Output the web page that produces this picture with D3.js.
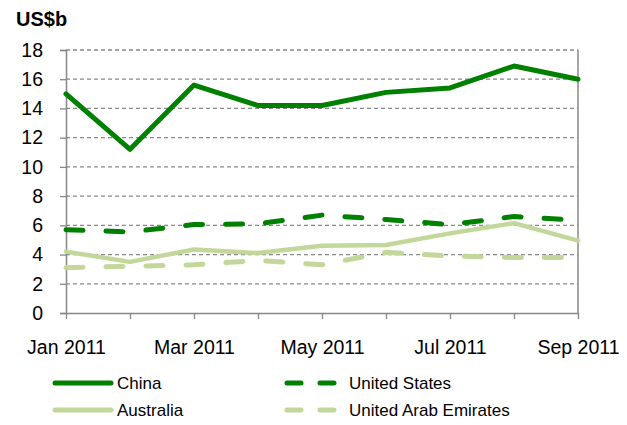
<!DOCTYPE html>
<html><head><meta charset="utf-8">
<script src="https://cdn.jsdelivr.net/npm/d3@7/dist/d3.min.js"></script>
<style>body{margin:0;background:#fff}svg{display:block;font-family:"Liberation Sans",Arial,sans-serif}</style>
</head><body><svg id="c" width="627" height="425"></svg>
<script>
const months = ["Jan 2011","Feb 2011","Mar 2011","Apr 2011","May 2011","Jun 2011","Jul 2011","Aug 2011","Sep 2011"];
const labeledMonths = ["Jan 2011","Mar 2011","May 2011","Jul 2011","Sep 2011"];
const yTicks = [0,2,4,6,8,10,12,14,16,18];
const china = [15.0,11.2,15.6,14.2,14.2,15.1,15.4,16.9,16.0];
const unitedStates = [5.7,5.55,6.05,6.1,6.7,6.4,6.05,6.6,6.35];
const australia = [4.2,3.5,4.35,4.1,4.6,4.65,5.45,6.15,4.95];
const uae = [3.1,3.2,3.3,3.6,3.3,4.15,3.9,3.8,3.8];

const series = [
  {name:"China", values:china, color:"#008000", w:5, dash:null},
  {name:"United States", values:unitedStates, color:"#008000", w:5, dash:"17,23"},
  {name:"Australia", values:australia, color:"#C4D79B", w:4.5, dash:null},
  {name:"United Arab Emirates", values:uae, color:"#C4D79B", w:5, dash:"17,23"}
];

const svg = d3.select("#c");
const L=66, R=578, T=50, B=313;
const x = d3.scalePoint().domain(months).range([L,R]);
const y = d3.scaleLinear().domain([0,18]).range([B,T]);
const FF = "Liberation Sans, Arial, sans-serif";

// gridlines
svg.append("g").selectAll("line").data(yTicks.filter(d=>d>0)).join("line")
  .attr("x1",L).attr("x2",R).attr("y1",d=>y(d)).attr("y2",d=>y(d))
  .attr("stroke","#888").attr("stroke-width",1.3).attr("stroke-dasharray","4,3");
// right border
svg.append("line").attr("x1",R).attr("x2",R).attr("y1",T).attr("y2",B)
  .attr("stroke","#888").attr("stroke-width",1.5);

// y axis
const ya = svg.append("g").attr("transform",`translate(${L},0)`)
  .call(d3.axisLeft(y).tickValues(yTicks).tickSize(6).tickPadding(17));
ya.select(".domain").attr("stroke","#888").attr("stroke-width",1.5);
ya.selectAll(".tick line").attr("stroke","#888").attr("stroke-width",1.3);
ya.selectAll("text").attr("font-size",19.5).attr("fill","#000").attr("font-family",FF);

// x axis
const xa = svg.append("g").attr("transform",`translate(0,${B})`)
  .call(d3.axisBottom(x).tickSize(6).tickPadding(21).tickSizeOuter(0)
    .tickFormat(d=>labeledMonths.includes(d)?d:""));
xa.select(".domain").attr("stroke","#888").attr("stroke-width",1.5);
xa.selectAll(".tick line").attr("stroke","#888").attr("stroke-width",1.3);
xa.selectAll("text").attr("font-size",19.5).attr("fill","#000").attr("font-family",FF);

// title
svg.append("text").attr("x",16).attr("y",26).attr("font-size",20).attr("font-weight","bold").attr("font-family",FF).text("US$b");

// lines
const line = d3.line().x((d,i)=>x(months[i])).y(d=>y(d));
const order = [2,3,1,0];
order.forEach(k=>{
  const s = series[k];
  svg.append("path").attr("d",line(s.values)).attr("fill","none")
    .attr("stroke",s.color).attr("stroke-width",s.w)
    .attr("stroke-linecap","round").attr("stroke-linejoin","round")
    .attr("stroke-dasharray",s.dash);
});

// legend
const legPos = [{x:55,y:383},{x:287,y:383},{x:55,y:410},{x:287,y:410}];
series.forEach((s,i)=>{
  const p = legPos[i];
  const g = svg.append("g");
  g.append("line").attr("x1",p.x).attr("x2",p.x+56).attr("y1",p.y).attr("y2",p.y)
    .attr("stroke",s.color).attr("stroke-width",5).attr("stroke-linecap","round")
    .attr("stroke-dasharray",s.dash?"14,19":null);
  g.append("text").attr("x",p.x+62).attr("y",p.y+6).attr("font-size",17).attr("font-family",FF).text(s.name);
});
</script></body></html>
